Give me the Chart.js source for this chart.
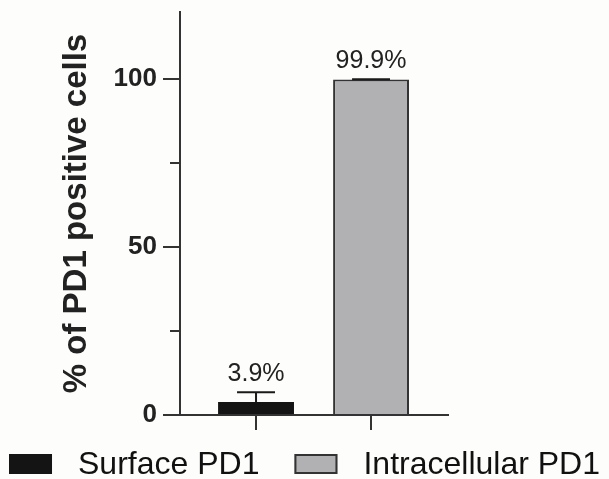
<!DOCTYPE html>
<html>
<head>
<meta charset="utf-8">
<script src="https://cdn.jsdelivr.net/npm/chart.js@4.4.1/dist/chart.umd.min.js"></script>
<style>
  body { margin: 0; background: #fdfdfb; }
</style>
</head>
<body>
<canvas id="pd1Chart" width="609" height="479"></canvas>
<script>
// % of PD1 positive cells, surface vs intracellular staining
const groups = ['Surface PD1', 'Intracellular PD1'];
const groupPos = [0, 1];
const percentPositive = [3.9, 99.9];
const errorSD = [2.9, 0.1];
const yMajorTicks = [0, 50, 100];
const yMinorTicks = [25, 75];

const fills = ['#141414', '#b1b1b3'];
const edges = ['#141414', '#333333'];
const axisColor = '#333333';

// whiskers + value labels above each bar
const errorBars = {
    id: 'errorBars',
    afterDatasetsDraw(chart) {
        const { ctx, scales: { x, y } } = chart;
        ctx.save();
        ctx.strokeStyle = '#1a1a1a';
        ctx.lineWidth = 2;
        ctx.fillStyle = '#222';
        ctx.font = '25px "Liberation Sans", Arial, sans-serif';
        ctx.textAlign = 'center';
        ctx.textBaseline = 'alphabetic';
        groupPos.forEach((p, i) => {
            const bar = chart.getDatasetMeta(i).data[0];
            const cx = x.getPixelForValue(p);
            const base = y.getPixelForValue(percentPositive[i]);
            const top = y.getPixelForValue(percentPositive[i] + errorSD[i]);
            const half = bar.width / 4;
            ctx.beginPath();
            ctx.moveTo(cx, base);
            ctx.lineTo(cx, top);
            ctx.moveTo(cx - half, top);
            ctx.lineTo(cx + half, top);
            ctx.stroke();
            ctx.fillText(percentPositive[i] + '%', cx, top - 11);
        });
        ctx.restore();
    }
};

// short unlabelled ticks between the major ones
const minorTicks = {
    id: 'minorTicks',
    afterDraw(chart) {
        const { ctx, scales: { y } } = chart;
        ctx.save();
        ctx.strokeStyle = axisColor;
        ctx.lineWidth = 2;
        yMinorTicks.forEach(v => {
            const py = Math.round(y.getPixelForValue(v));
            ctx.beginPath();
            ctx.moveTo(y.right - 10, py);
            ctx.lineTo(y.right, py);
            ctx.stroke();
        });
        ctx.restore();
    }
};

// legend row under the axis
const bottomLegend = {
    id: 'bottomLegend',
    afterDraw(chart) {
        const ctx = chart.ctx;
        const boxW = 43, boxH = 20, textGap = 26, itemGap = 35, yMid = 464;
        ctx.save();
        ctx.font = '32px "Liberation Sans", Arial, sans-serif';
        ctx.textBaseline = 'middle';
        ctx.textAlign = 'left';
        const sets = chart.data.datasets;
        const widths = sets.map(d => ctx.measureText(d.label).width);
        const total = widths.reduce((s, w) => s + boxW + textGap + w, 0) + itemGap * (sets.length - 1);
        let xPos = (chart.width - total) / 2;
        sets.forEach((d, i) => {
            ctx.fillStyle = d.backgroundColor;
            ctx.fillRect(xPos, yMid - boxH / 2, boxW, boxH);
            if (d.borderWidth) {
                ctx.strokeStyle = d.borderColor;
                ctx.lineWidth = 2;
                ctx.strokeRect(xPos + 1, yMid - boxH / 2 + 1, boxW - 2, boxH - 2);
            }
            ctx.fillStyle = '#111';
            ctx.fillText(d.label, xPos + boxW + textGap, yMid + 1);
            xPos += boxW + textGap + widths[i] + itemGap;
        });
        ctx.restore();
    }
};

const ctx = document.getElementById('pd1Chart').getContext('2d');
new Chart(ctx, {
    type: 'bar',
    data: {
        datasets: groups.map((g, i) => ({
            label: g,
            data: [{ x: groupPos[i], y: percentPositive[i] }],
            backgroundColor: fills[i],
            borderColor: edges[i],
            borderWidth: i === 0 ? 0 : 2,
            grouped: false,
            categoryPercentage: 1,
            barPercentage: 0.66
        }))
    },
    options: {
        responsive: false,
        animation: false,
        layout: { padding: { top: 12, right: 161, bottom: 0, left: 0 } },
        scales: {
            x: {
                type: 'linear',
                offset: false,
                min: -0.661,
                max: 1.669,
                afterBuildTicks: (axis) => { axis.ticks = groupPos.map(v => ({ value: v })); },
                afterFit: (axis) => { axis.height = 64; axis.paddingLeft = 0; axis.paddingRight = 0; },
                ticks: { display: false },
                grid: { offset: false, drawOnChartArea: false, drawTicks: true, tickLength: 15, color: axisColor, lineWidth: 2 },
                border: { color: axisColor, width: 2 }
            },
            y: {
                min: 0,
                max: 120,
                afterBuildTicks: (axis) => { axis.ticks = yMajorTicks.map(v => ({ value: v })); },
                afterFit: (axis) => { axis.width = 180; axis.paddingTop = 0; axis.paddingBottom = 0; },
                ticks: {
                    padding: 6,
                    color: '#222',
                    font: { family: '"Liberation Sans", Arial, sans-serif', size: 26, weight: 'bold' }
                },
                grid: { drawOnChartArea: false, drawTicks: true, tickLength: 17, color: axisColor, lineWidth: 2 },
                border: { color: axisColor, width: 2 },
                title: {
                    display: true,
                    text: '% of PD1 positive cells',
                    color: '#222',
                    padding: { top: 57, bottom: 0 },
                    font: { family: '"Liberation Sans", Arial, sans-serif', size: 33, weight: 'bold', lineHeight: 1.2 }
                }
            }
        },
        plugins: {
            legend: { display: false },
            tooltip: { enabled: false }
        }
    },
    plugins: [errorBars, minorTicks, bottomLegend]
});
</script>
</body>
</html>
